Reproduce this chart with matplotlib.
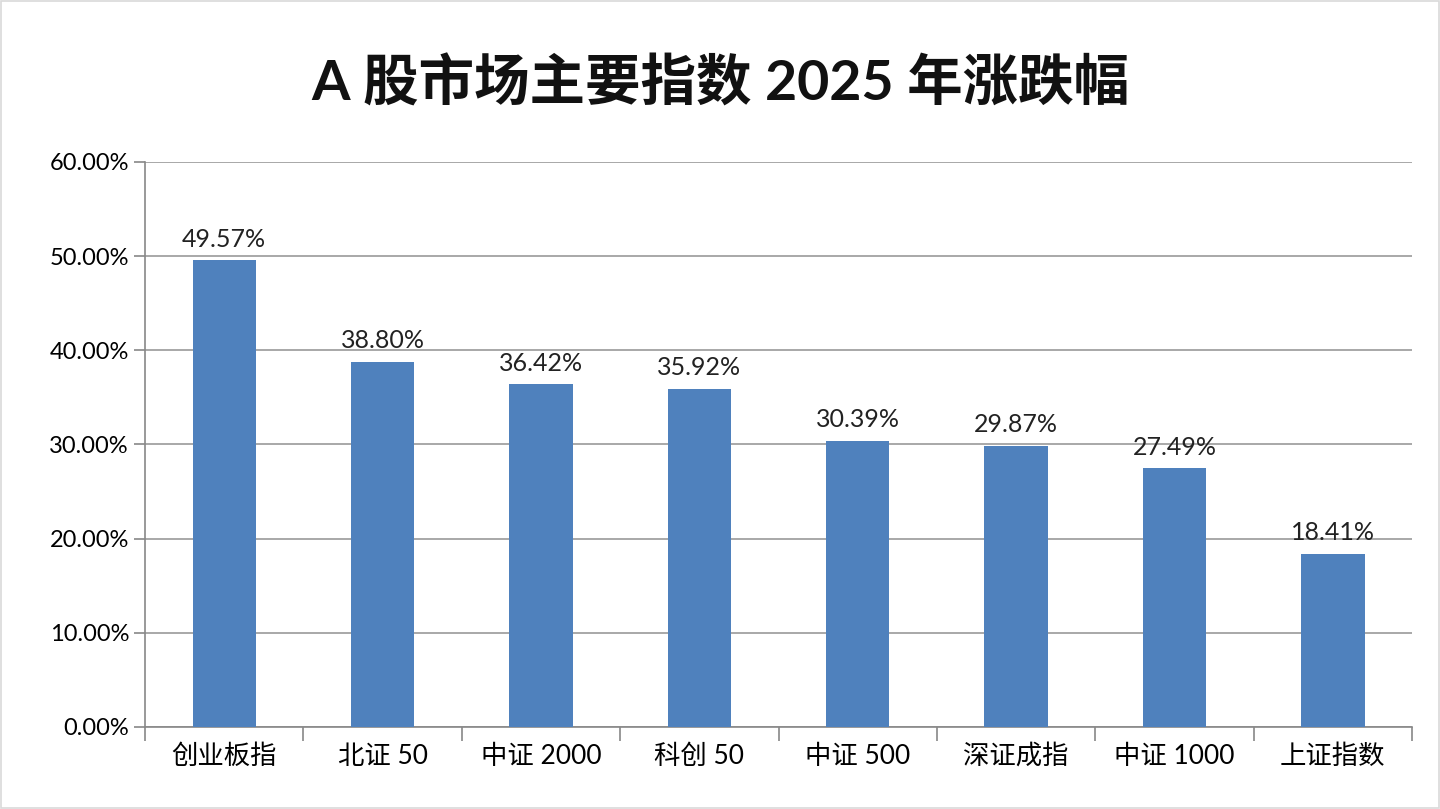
import matplotlib
matplotlib.use("Agg")
from matplotlib import pyplot as plt
from matplotlib.patches import Rectangle
import numpy as np

plt.rcParams['font.family'] = ['Lato', 'Noto Sans CJK SC', 'DejaVu Sans']

categories = ["创业板指", "北证 50", "中证 2000", "科创 50", "中证 500", "深证成指", "中证 1000", "上证指数"]
values = [49.57, 38.80, 36.42, 35.92, 30.39, 29.87, 27.49, 18.41]
yticks = [0, 10, 20, 30, 40, 50, 60]

fig = plt.figure(figsize=(14.4, 8.09), dpi=100)
ax = fig.add_axes([0.1007, 0.1014, 0.8799, 0.6984])
fig.patches.append(Rectangle((0.001, 0.001), 0.998, 0.998, transform=fig.transFigure,
                             fill=False, edgecolor="#d9d9d9", linewidth=1.2))

x = np.arange(len(categories))
ax.bar(x, values, width=0.4, color="#4f81bd", zorder=3)
for xi, v in zip(x, values):
    ax.text(xi, v + 1.0, f"{v:.2f}%", ha="center", va="bottom", fontsize=18, color="#222222")

ax.set_xlim(-0.5, len(categories) - 0.5)
ax.set_ylim(0, 60)
ax.set_yticks(yticks)
ax.set_yticklabels([f"{t:.2f}%" for t in yticks], fontsize=17)
ax.yaxis.grid(True, color="#999999", linewidth=1.2, zorder=0)
ax.set_xticks(x)
ax.set_xticklabels(categories, fontsize=19)
ax.set_xticks(np.arange(-0.5, len(categories)), minor=True)
ax.tick_params(axis="x", which="major", length=0, pad=12)
ax.tick_params(axis="x", which="minor", length=10, color="#888888", width=1.2)
ax.tick_params(axis="y", length=8, color="#888888", width=1.2, direction="out")
for s in ["top", "right"]:
    ax.spines[s].set_visible(False)
for s in ["left", "bottom"]:
    ax.spines[s].set_color("#888888")
    ax.spines[s].set_linewidth(1.2)

fig.text(0.5, 0.898, "A 股市场主要指数 2025 年涨跌幅", ha="center", va="center",
         fontsize=40, fontweight="bold", color="#111111")

fig.savefig("out.png", dpi=100)
